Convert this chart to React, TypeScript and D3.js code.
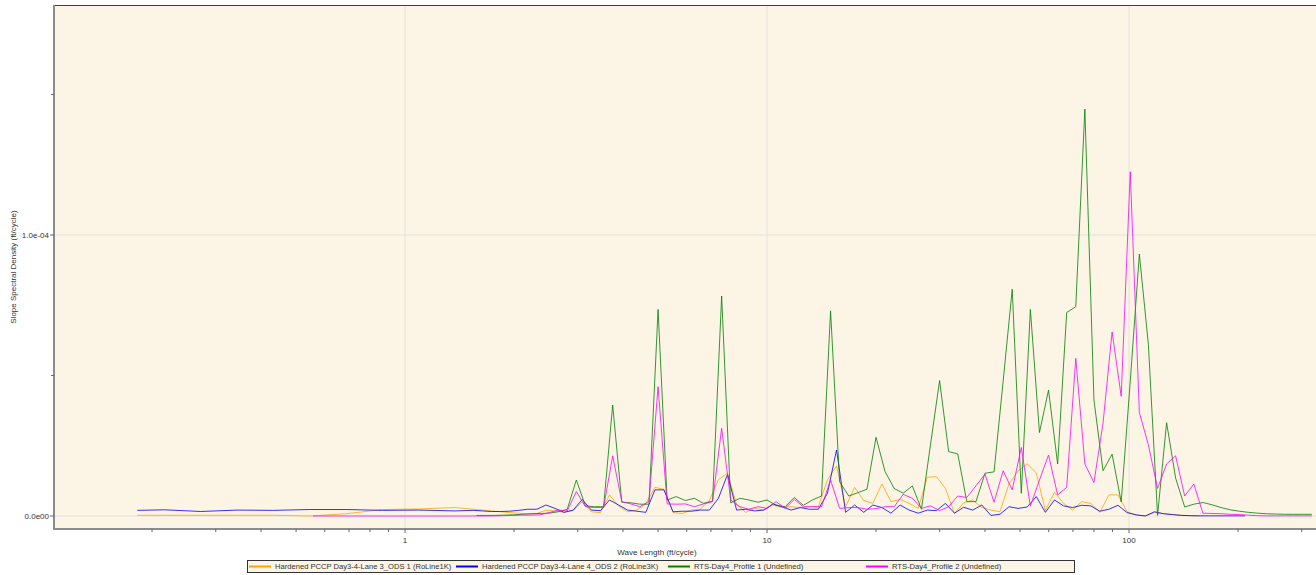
import * as d3 from 'd3'

const W = 1316
const H = 575
const PLOT = { left: 54, top: 5, right: 1316, bottom: 529 }
const FONT = '"Liberation Sans", Arial, sans-serif'

// wave length grids (ft/cycle), 1/12 octave bins
const rtsWaveLength = [
  0.557, 0.702, 0.884, 1.114, 1.403,
  1.575, 1.669, 1.768, 1.873, 1.984, 2.102, 2.227, 2.360, 2.500, 2.649,
  2.806, 2.973, 3.150, 3.337, 3.536, 3.746, 3.969, 4.204, 4.454, 4.719,
  5.000, 5.297, 5.612, 5.946, 6.300, 6.674, 7.071, 7.492, 7.937, 8.409,
  8.909, 9.439, 10.00, 10.59, 11.22, 11.89, 12.60, 13.35, 14.14, 14.98,
  15.87, 16.82, 17.82, 18.88, 20.00, 21.19, 22.45, 23.78, 25.20, 26.70,
  28.28, 29.97, 31.75, 33.64, 35.64, 37.76, 40.00, 42.38, 44.90, 47.57,
  50.40, 53.39, 56.57, 59.93, 63.50, 67.27, 71.27, 75.51, 80.00, 84.76,
  89.80, 95.14, 100.8, 106.8, 113.1, 119.9, 127.0, 134.5, 142.5, 151.0,
  160.0, 169.5, 179.6, 190.3, 201.6, 213.6, 226.3, 239.7, 254.0, 269.1,
  285.1, 302.0, 320.0,
]

const pccpWaveLength = [
  0.1821, 0.2166, 0.2728, 0.3438, 0.4331, 0.5457, 0.6875, 0.8662, 1.091, 1.375,
  1.543, 1.635, 1.732, 1.835, 1.945, 2.060, 2.183, 2.313, 2.450, 2.596,
  2.750, 2.914, 3.087, 3.270, 3.465, 3.671, 3.889, 4.120, 4.365, 4.625,
  4.900, 5.191, 5.500, 5.827, 6.174, 6.541, 6.930, 7.342, 7.778, 8.241,
  8.731, 9.250, 9.800, 10.38, 11.00, 11.65, 12.35, 13.08, 13.86, 14.68,
  15.56, 16.48, 17.46, 18.50, 19.60, 20.77, 22.00, 23.31, 24.69, 26.16,
  27.72, 29.37, 31.11, 32.96, 34.92, 37.00, 39.20, 41.53, 44.00, 46.62,
  49.39, 52.33, 55.44, 58.73, 62.23, 65.93, 69.85, 74.00, 78.40, 83.06,
  88.00, 93.23, 98.78, 104.7, 110.9, 117.5, 124.5, 131.9, 139.7, 148.0,
  156.8, 166.1, 176.0, 186.5, 197.6, 209.3,
]

// slope spectral density, in 1e-6 ft/cycle
const lane3Ods1 = [
  0.25, 0.25, 0.25, 0.25, 0.25, 0.0, 0.8, 2.3, 2.5, 3.0,
  2.4, 2.1, 1.8, 1.5, 1.2, 1.0, 0.7, 0.9, 2.1, 1.8,
  1.3, 1.9, 5.1, 1.5, 1.2, 7.5, 3.6, 1.5, 2.1, 4.3,
  10.2, 9.5, 1.2, 0.9, 2.1, 2.4, 5.5, 13.0, 15.2, 4.0,
  1.3, 2.7, 2.1, 3.9, 3.0, 3.3, 3.0, 3.3, 3.3, 12.8,
  17.8, 3.3, 10.2, 5.5, 4.5, 11.4, 5.1, 5.9, 4.5, 2.7,
  13.8, 14.0, 9.8, 0.9, 4.7, 5.7, 3.0, 2.1, 1.5, 11.5,
  16.0, 18.6, 15.3, 2.0, 8.4, 4.5, 2.1, 5.1, 4.5, 1.3,
  7.5, 7.5, 1.5, 0.3, 0.0, 1.2, 0.9, 0.5, 0.3, 0.1,
  0.05, null, null, null, null, null,
]

const lane4Ods2 = [
  2.0, 2.2, 1.6, 2.1, 2.0, 2.3, 2.3, 2.0, 2.1, 1.8,
  2.0, 1.8, 1.6, 1.6, 1.7, 2.0, 2.4, 2.4, 3.9, 2.7,
  1.3, 2.1, 5.9, 2.1, 1.9, 5.7, 3.9, 2.1, 1.7, 1.3,
  9.3, 9.3, 1.5, 1.7, 1.7, 2.1, 2.1, 6.3, 14.8, 2.1,
  2.4, 1.8, 2.1, 4.3, 3.3, 2.1, 3.0, 2.4, 2.4, 8.0,
  23.5, 1.3, 3.9, 1.3, 3.9, 3.0, 1.0, 3.9, 2.1, 1.0,
  2.1, 1.9, 4.5, 1.0, 3.1, 2.1, 3.9, 0.2, 0.6, 3.3,
  2.7, 3.2, 6.9, 1.3, 5.7, 3.6, 3.0, 3.8, 3.6, 1.7,
  2.4, 3.8, 1.2, 0.4, 0.0, 1.5, 0.8, 0.5, 0.2, 0.1,
  0.05, 0.05, 0.05, 0.05, 0.05, 0.05,
]

const rtsProfile1 = [
  null, null, null, null, null,
  0.2, 0.2, 0.2, 0.3, 0.4, 0.6, 0.8, 0.9, 1.0, 1.5,
  2.4, 12.8, 3.6, 3.3, 3.3, 39.5, 4.9, 4.7, 4.2, 4.2,
  73.5, 5.7, 6.9, 5.5, 6.3, 4.5, 5.3, 78.3, 4.7, 6.3,
  5.7, 4.9, 5.7, 3.8, 3.3, 6.6, 3.8, 5.7, 7.1, 73.0,
  12.2, 7.1, 8.3, 9.5, 28.0, 15.8, 9.8, 8.1, 10.7, 2.4,
  25.3, 48.2, 22.9, 22.1, 5.1, 5.1, 15.2, 15.7, 48.0, 80.7,
  8.1, 73.5, 29.7, 44.8, 18.5, 72.4, 74.5, 144.8, 41.3, 16.1,
  22.0, 5.0, 48.0, 93.2, 61.0, 0.2, 33.2, 13.5, 3.2, 4.2,
  4.8, 4.0, 3.0, 2.2, 1.7, 1.3, 1.0, 0.8, 0.7, 0.6,
  0.6, 0.6, 0.6,
]

const rtsProfile2 = [
  0, 0, 0, 0, 0,
  0, 0, 0.05, 0.1, 0.2, 0.3, 0.3, 0.4, 1.2, 2.1,
  1.8, 8.7, 3.3, 3.0, 3.0, 21.4, 5.1, 4.3, 3.3, 5.2,
  46.0, 4.3, 4.2, 4.3, 3.3, 4.3, 5.1, 31.2, 5.7, 3.3,
  2.4, 3.3, 2.7, 5.1, 2.7, 5.9, 3.3, 3.3, 3.3, 12.8,
  2.7, 3.0, 3.0, 2.4, 2.6, 3.3, 3.3, 7.7, 6.3, 2.7,
  3.6, 1.9, 3.3, 7.1, 6.6, 10.7, 14.9, 4.9, 16.1, 9.3,
  24.4, 3.5, 12.8, 21.7, 7.5, 10.2, 56.1, 18.5, 11.9, 33.0,
  65.5, 42.6, 122.5, 36.8, 25.3, 9.8, 18.5, 21.4, 7.1, 11.4,
  1.0, 0.9, 0.8, 0.6, 0.5, 0.3, 0.1, 0.05, 0.05, 0.05,
  0.05, 0.05, 0.05,
]

const seriesNames = [
  'Hardened PCCP Day3-4-Lane 3_ODS 1 (RoLine1K)',
  'Hardened PCCP Day3-4-Lane 4_ODS 2 (RoLine3K)',
  'RTS-Day4_Profile 1 (Undefined)',
  'RTS-Day4_Profile 2 (Undefined)',
]
const seriesColors = ['#FFA500', '#0000FF', '#008000', '#FF00FF']
const xMajorTicks = [1, 10, 100]
const yMajorTicks = [0, 1e-4]
const yTickLabels = ['0.0e00', '1.0e-04']
const yMinorTicks = [5e-5, 1.5e-4]

const series = [
  { wl: pccpWaveLength, v: lane3Ods1 },
  { wl: pccpWaveLength, v: lane4Ods2 },
  { wl: rtsWaveLength, v: rtsProfile1 },
  { wl: rtsWaveLength, v: rtsProfile2 },
].map((s, i) => ({
  name: seriesNames[i],
  color: seriesColors[i],
  points: s.wl.map((w, j) => [w, s.v[j] == null ? null : (s.v[j] as number) * 1e-6] as [number, number | null]),
}))

const legendCols = [249, 456, 668, 866]

export default function App() {
  const x = d3.scaleLog().domain([0.1072, 328.5]).range([PLOT.left, PLOT.right])
  const y = d3.scaleLinear().domain([-4.63e-6, 1.8185e-4]).range([PLOT.bottom, PLOT.top])

  const line = d3
    .line<[number, number | null]>()
    .defined((d) => d[1] != null)
    .x((d) => x(d[0]))
    .y((d) => y(d[1] as number))

  const minorX = x.ticks().filter((t) => !xMajorTicks.includes(t) && t > 0.15)

  return (
    <svg width={W} height={H} style={{ position: 'absolute', left: 0, top: 0, background: '#fff' }} fontFamily={FONT}>
      <defs>
        <clipPath id="plotClip">
          <rect x={PLOT.left} y={PLOT.top} width={PLOT.right - PLOT.left + 4} height={PLOT.bottom - PLOT.top} />
        </clipPath>
      </defs>
      <rect x={PLOT.left} y={PLOT.top} width={PLOT.right - PLOT.left + 4} height={PLOT.bottom - PLOT.top} fill="#FCF5E6" />

      {/* grid */}
      {xMajorTicks.map((t) => (
        <line key={'gx' + t} x1={x(t)} x2={x(t)} y1={PLOT.top} y2={PLOT.bottom} stroke="#E4E2DC" />
      ))}
      {yMajorTicks.map((t) => (
        <line key={'gy' + t} x1={PLOT.left} x2={PLOT.right + 4} y1={y(t)} y2={y(t)} stroke="#E4E2DC" />
      ))}

      {/* series */}
      <g clipPath="url(#plotClip)">
        {series.map((s) => (
          <path key={s.name} d={line(s.points) || ''} fill="none" stroke={s.color} strokeWidth={1} strokeOpacity={0.8} />
        ))}
      </g>

      {/* frame */}
      <line x1={PLOT.left} x2={PLOT.right + 4} y1={PLOT.top + 0.5} y2={PLOT.top + 0.5} stroke="#404040" />
      <line x1={PLOT.left} x2={PLOT.left} y1={PLOT.top} y2={PLOT.bottom + 1} stroke="#8C8C8C" strokeWidth={2} />
      <line x1={PLOT.left} x2={PLOT.right + 4} y1={PLOT.bottom} y2={PLOT.bottom} stroke="#8C8C8C" strokeWidth={2} />

      {/* y ticks */}
      {yMajorTicks.map((t, i) => (
        <g key={'yt' + t}>
          <line x1={PLOT.left - 4} x2={PLOT.left} y1={y(t)} y2={y(t)} stroke="#666" />
          <text x={PLOT.left - 5} y={y(t)} dy="0.35em" textAnchor="end" fontSize={8} fill="#333">
            {yTickLabels[i]}
          </text>
        </g>
      ))}
      {yMinorTicks.map((t) => (
        <line key={'ym' + t} x1={PLOT.left - 3} x2={PLOT.left} y1={y(t)} y2={y(t)} stroke="#666" />
      ))}

      {/* x ticks */}
      {xMajorTicks.map((t) => (
        <g key={'xt' + t}>
          <line x1={x(t)} x2={x(t)} y1={PLOT.bottom} y2={PLOT.bottom + 4} stroke="#666" />
          <text x={x(t)} y={PLOT.bottom + 14} textAnchor="middle" fontSize={8} fill="#333">
            {t}
          </text>
        </g>
      ))}
      {minorX.map((t) => (
        <line key={'xm' + t} x1={x(t)} x2={x(t)} y1={PLOT.bottom} y2={PLOT.bottom + 3} stroke="#666" />
      ))}

      {/* axis titles */}
      <text x={657} y={555} textAnchor="middle" fontSize={8} fill="#333">
        Wave Length (ft/cycle)
      </text>
      <text transform={`translate(16,267) rotate(-90)`} textAnchor="middle" fontSize={8} fill="#333">
        Slope Spectral Density (ft/cycle)
      </text>

      {/* legend */}
      <rect x={247.5} y={560.5} width={827} height={12} fill="#FCF5E6" stroke="#333" />
      {series.map((s, i) => (
        <g key={'lg' + i}>
          <line x1={legendCols[i]} x2={legendCols[i] + 22} y1={566.5} y2={566.5} stroke={s.color} strokeWidth={2} />
          <text x={legendCols[i] + 26} y={566.5} dy="0.35em" fontSize={7.6} fill="#333">
            {s.name}
          </text>
        </g>
      ))}
    </svg>
  )
}
